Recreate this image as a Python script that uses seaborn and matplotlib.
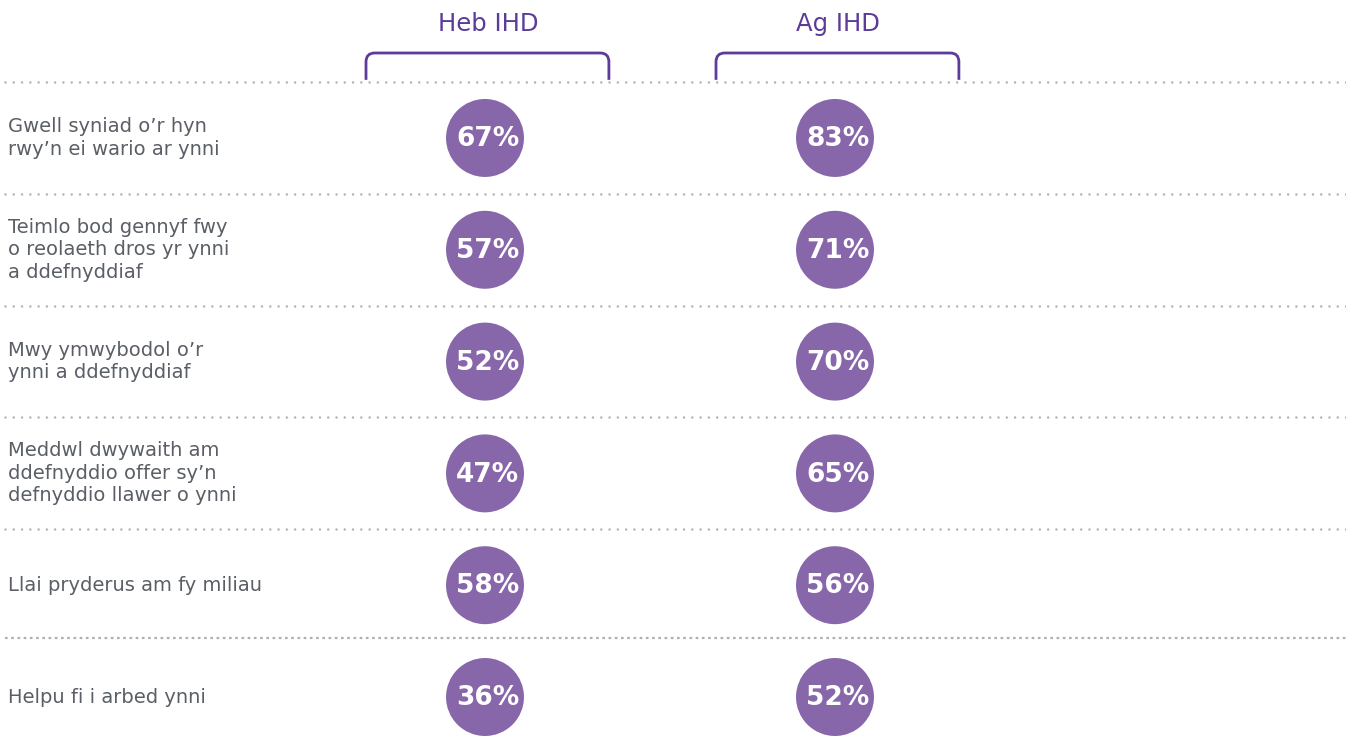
import numpy as np
import pandas as pd
import matplotlib.pyplot as plt
from matplotlib.path import Path
from matplotlib.patches import PathPatch
import seaborn as sns

# survey statements (Welsh) and % agreeing, without / with an IHD
statements = [
    "Gwell syniad o\u2019r hyn\nrwy\u2019n ei wario ar ynni",
    "Teimlo bod gennyf fwy\no reolaeth dros yr ynni\na ddefnyddiaf",
    "Mwy ymwybodol o\u2019r\nynni a ddefnyddiaf",
    "Meddwl dwywaith am\nddefnyddio offer sy\u2019n\ndefnyddio llawer o ynni",
    "Llai pryderus am fy miliau",
    "Helpu fi i arbed ynni",
]
groups = ["Heb IHD", "Ag IHD"]
heb_ihd = [67, 57, 52, 47, 58, 36]
ag_ihd = [83, 71, 70, 65, 56, 52]

purple = "#8866aa"
dark_purple = "#5c3b99"
grey_text = "#5a5f66"
dot_grey = "#b0b0b0"

rows = []
for i, s in enumerate(statements):
    rows.append({"row": i, "col": 0, "group": groups[0], "val": heb_ihd[i]})
    rows.append({"row": i, "col": 1, "group": groups[1], "val": ag_ihd[i]})
df = pd.DataFrame(rows)

sns.set_theme(style="white")
plt.rcParams["font.family"] = ["DejaVu Sans"]

fig = plt.figure(figsize=(13.46, 7.49), dpi=100)
ax = fig.add_axes([0, 0, 1, 1])

sns.scatterplot(data=df, x="col", y="row", s=3150, color=purple,
                edgecolor="none", legend=False, ax=ax)

for _, r in df.iterrows():
    ax.text(r["col"] + 0.008, r["row"] + 0.01, f"{r['val']}%", ha="center",
            va="center", color="white", fontsize=19, fontweight="bold")

# row labels
for i, s in enumerate(statements):
    ax.text(-1.363, i, s, ha="left", va="center", color=grey_text,
            fontsize=14, linespacing=1.23)

# dotted separators
for i in range(len(statements)):
    y = i - 0.5 + (0.0 if i < 5 else -0.03)
    if i == 5:
        ax.plot([-1.37, 2.46], [y, y], color=dot_grey, lw=1.6,
                linestyle=(0, (1.2, 1.6)), dash_capstyle="butt")
    else:
        ax.plot([-1.37, 2.46], [y, y], color=dot_grey, lw=1.8,
                linestyle=(0, (0.01, 3.3)), dash_capstyle="round")

# column headers with brackets
for c, g in enumerate(groups):
    ax.text(c + 0.008, -1.02, g, ha="center", va="center", color=dark_purple,
            fontsize=17.5)
    x0, x1 = c - 0.34, c + 0.354
    yt, yb = -0.76, -0.52
    rx, ry = 0.025, 0.08
    verts = [(x0, yb), (x0, yt + ry), (x0, yt), (x0 + rx, yt),
             (x1 - rx, yt), (x1, yt), (x1, yt + ry), (x1, yb)]
    codes = [Path.MOVETO, Path.LINETO, Path.CURVE3, Path.CURVE3,
             Path.LINETO, Path.CURVE3, Path.CURVE3, Path.LINETO]
    ax.add_patch(PathPatch(Path(verts, codes), facecolor="none",
                           edgecolor=dark_purple, lw=2.0))

ax.set_xlim(-1.3857, 2.46)
ax.set_ylim(5.465, -1.234)
ax.axis("off")

fig.savefig("out.png", dpi=100)
